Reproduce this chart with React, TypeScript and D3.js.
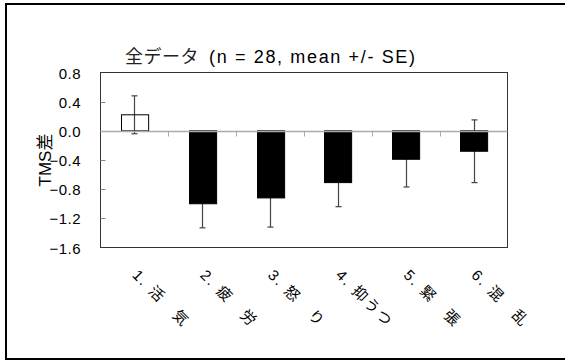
import React from "react";
import * as d3 from "d3";

const categories = ["1. 活　気", "2. 疲　労", "3. 怒　り", "4. 抑うつ", "5. 緊　張", "6. 混　乱"];
const means = [0.22, -1.0, -0.92, -0.71, -0.39, -0.28];
const ses = [0.26, 0.33, 0.4, 0.33, 0.38, 0.43];
const yTicks = [0.8, 0.4, 0.0, -0.4, -0.8, -1.2, -1.6];
const titleJa = "全データ";
const titleEn = "(n = 28, mean +/- SE)";
const yLabel = "TMS差";

const W = 565;
const H = 361;
const plot = { left: 100.5, right: 507.5, top: 72.5, bottom: 247.5 };
const FONT = "'Liberation Sans', Arial, 'Noto Sans CJK JP', sans-serif";

export default function App() {
  const x = d3
    .scaleBand<string>()
    .domain(categories)
    .range([plot.left, plot.right])
    .paddingInner(0.6)
    .paddingOuter(0.3);
  const y = d3.scaleLinear().domain([-1.6, 0.8]).range([plot.bottom, plot.top]);
  const step = x.step();
  const y0 = Math.round(y(0)) + 0.5;

  return (
    <svg
      width={W}
      height={H}
      style={{ position: "absolute", left: 0, top: 0, background: "#fff" }}
      fontFamily={FONT}
    >
      {/* outer frame */}
      <rect x={6} y={4} width={600} height={355} fill="none" stroke="#000" strokeWidth={2} />

      {/* title */}
      <text x={125} y={63} fontSize={18} fill="#222" letterSpacing={0.5}>
        {titleJa}
      </text>
      <text x={209} y={63} fontSize={18} fill="#000" textLength={206} lengthAdjust="spacing">
        {titleEn}
      </text>

      {/* plot frame */}
      <rect
        x={plot.left}
        y={plot.top}
        width={plot.right - plot.left}
        height={plot.bottom - plot.top}
        fill="none"
        stroke="#333"
        strokeWidth={1}
      />

      {/* y ticks */}
      {yTicks.map((t) => {
        const yy = Math.round(y(t)) + 0.5;
        return (
          <g key={t}>
            {t < 0.8 && t > -1.6 && (
              <line x1={plot.left} x2={plot.left + 5} y1={yy} y2={yy} stroke="#888" />
            )}
            <text
              x={81}
              y={yy}
              dy="0.36em"
              textAnchor="end"
              fontSize={15}
              letterSpacing={0.5}
              fill="#000"
            >
              {d3.format(".1f")(t)}
            </text>
          </g>
        );
      })}

      {/* y label */}
      <text
        transform={`translate(51,160) rotate(-90)`}
        textAnchor="middle"
        fontSize={17}
        fill="#000"
      >
        {yLabel}
      </text>

      {/* error bars (drawn beneath bars) */}
      {categories.map((c, i) => {
        const cx = Math.round(x(c)! + x.bandwidth() / 2) + 0.5;
        const hi = y(means[i] + ses[i]);
        const lo = y(means[i] - ses[i]);
        return (
          <g key={c} stroke="#444" strokeWidth={1.2}>
            <line x1={cx} x2={cx} y1={hi} y2={lo} />
            <line x1={cx - 3} x2={cx + 3} y1={hi} y2={hi} />
            <line x1={cx - 3} x2={cx + 3} y1={lo} y2={lo} />
          </g>
        );
      })}

      {/* bars */}
      {categories.map((c, i) => {
        const v = means[i];
        const top = y(Math.max(0, v));
        const bot = y(Math.min(0, v));
        return (
          <rect
            key={c}
            x={Math.round(x(c)!) + 0.5}
            y={top}
            width={x.bandwidth()}
            height={bot - top}
            fill={v >= 0 ? "none" : "#000"}
            stroke="#000"
            strokeWidth={1}
          />
        );
      })}

      {/* zero line */}
      <line x1={plot.left} x2={plot.right} y1={y0} y2={y0} stroke="#aaa" strokeWidth={1.5} />

      {/* x ticks at category boundaries */}
      {categories.slice(1).map((c, i) => {
        const xx = Math.round(plot.left + step * (i + 1)) + 0.5;
        return <line key={c} x1={xx} x2={xx} y1={y0} y2={y0 + 5} stroke="#aaa" />;
      })}

      {/* category labels */}
      {categories.map((c) => {
        const cx = x(c)! + x.bandwidth() / 2;
        return (
          <text
            key={c}
            transform={`translate(${cx - 3},${276}) rotate(45)`}
            fontSize={15}
            letterSpacing={2}
            fill="#000"
          >
            {c}
          </text>
        );
      })}
    </svg>
  );
}
